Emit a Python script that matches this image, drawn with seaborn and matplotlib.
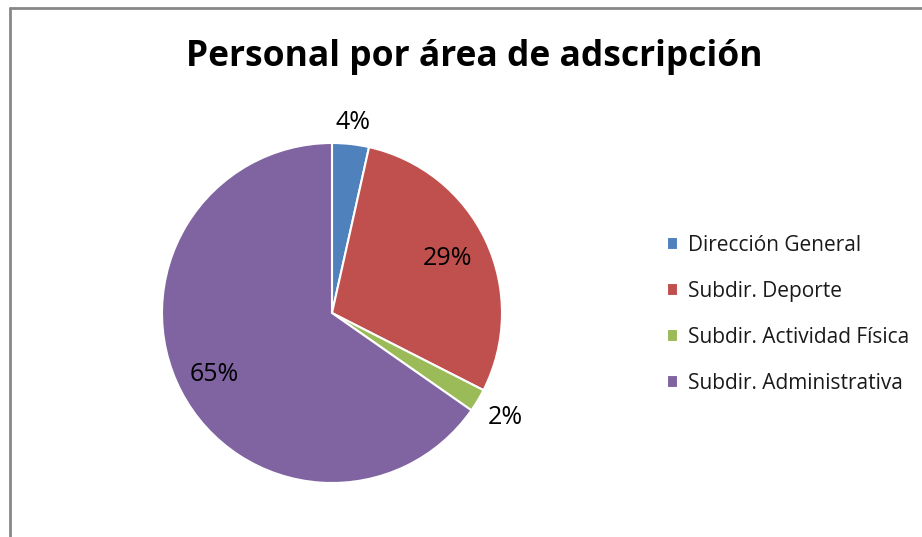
import matplotlib
matplotlib.use("Agg")
import matplotlib.pyplot as plt
import seaborn as sns
import numpy as np
from matplotlib.lines import Line2D

sns.set_theme(style="white")
plt.rcParams['font.family'] = ['Open Sans', 'DejaVu Sans']

categories = ["Dirección General", "Subdir. Deporte", "Subdir. Actividad Física", "Subdir. Administrativa"]
shares = [3.5, 29.0, 2.2, 65.3]
colors = ["#4F81BD", "#C0504D", "#9BBB59", "#8064A2"]
label_dist = [1.13, 0.75, 1.19, 0.78]
title = "Personal por área de adscripción"

W, H = 922, 537
fig = plt.figure(figsize=(W / 100, H / 100), dpi=100)
fig.patch.set_facecolor("white")

cx, cy, r = 332, 313, 170
ax = fig.add_axes([(cx - r) / W, (H - cy - r) / H, 2 * r / W, 2 * r / H])
wedges, _ = ax.pie(shares, colors=colors, startangle=90, counterclock=False,
                   radius=1, wedgeprops=dict(edgecolor="white", linewidth=1.5))
ax.set_xlim(-1, 1)
ax.set_ylim(-1, 1)
ax.set_aspect("equal")
ax.axis("off")

for w, v, d in zip(wedges, shares, label_dist):
    mid = np.deg2rad((w.theta1 + w.theta2) / 2)
    ax.text(d * np.cos(mid), d * np.sin(mid), f"{v:.0f}%", ha="center", va="center",
            fontsize=18, color="black")

fig.text(474 / W, 1 - 57 / H, title, ha="center", va="center",
         fontsize=25.5, fontweight="bold", color="black")

fig.legend(wedges, categories, loc="upper left", bbox_to_anchor=(648 / W, 1 - 216 / H),
           frameon=False, fontsize=15, handlelength=0.55, handleheight=0.55,
           handletextpad=0.45, labelspacing=1.2, labelcolor="#1a1a1a")

fig.add_artist(Line2D([10 / W, 10 / W], [0, 1 - 8 / H], color="#888888", lw=2, transform=fig.transFigure))
fig.add_artist(Line2D([10 / W, 1], [1 - 8 / H, 1 - 8 / H], color="#888888", lw=2, transform=fig.transFigure))

fig.savefig("out.png", dpi=100, facecolor="white")
